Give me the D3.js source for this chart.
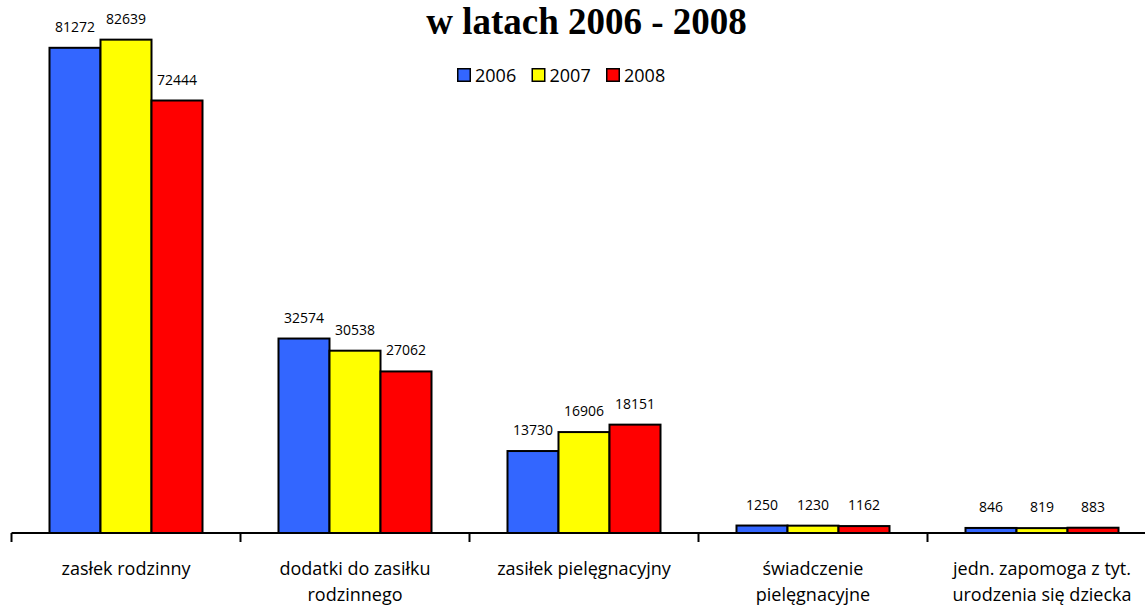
<!DOCTYPE html>
<html>
<head>
<meta charset="utf-8">
<script src="https://cdn.jsdelivr.net/npm/d3@7"></script>
<style>
	body { margin: 0; background: #fff; }
	svg { display: block; }
</style>
</head>
<body>
<div id="chart"></div>
<script>
// data
var categories = [
	["zasłek rodzinny"],
	["dodatki do zasiłku", "rodzinnego"],
	["zasiłek pielęgnacyjny"],
	["świadczenie", "pielęgnacyjne"],
	["jedn. zapomoga z tyt.", "urodzenia się dziecka"]
];
var years = ["2006", "2007", "2008"];
var values2006 = [81272, 32574, 13730, 1250, 846];
var values2007 = [82639, 30538, 16906, 1230, 819];
var values2008 = [72444, 27062, 18151, 1162, 883];
var colors = ["#3366FF", "#FFFF00", "#FF0000"];

var series = [values2006, values2007, values2008];

var width = 1145,
	height = 606;

var margin = {
	left: 11.5,
	bottom: 73
};
var baseline = height - margin.bottom;
var step = 229;

var svg = d3.select("#chart")
	.append("svg")
	.attr("width", width)
	.attr("height", height);

var x0 = d3.scaleBand()
	.domain(d3.range(categories.length))
	.range([margin.left, margin.left + step * categories.length])
	.paddingInner(0)
	.paddingOuter(0);

var x1 = d3.scaleBand()
	.domain(years)
	.range([0, x0.bandwidth()])
	.paddingInner(0)
	.paddingOuter(0.745);

var y = d3.scaleLinear()
	.domain([0, 90000])
	.range([baseline, baseline - 537.3]);

var color = d3.scaleOrdinal()
	.domain(years)
	.range(colors);

// title (upper line is cut off in the original)
svg.append("text")
	.attr("x", 586.5)
	.attr("y", 34)
	.attr("text-anchor", "middle")
	.style("font-family", "'Liberation Serif', 'Times New Roman', serif")
	.style("font-weight", "bold")
	.style("font-size", "37px")
	.text("w latach 2006 - 2008");

// legend
var legend = svg.append("g")
	.attr("transform", "translate(457,75)");

var legendItem = legend.selectAll(".legendItem")
	.data(years)
	.enter()
	.append("g")
	.attr("class", "legendItem")
	.attr("transform", (d, i) => `translate(${i * 74.5},0)`);

legendItem.append("rect")
	.attr("x", 0.75)
	.attr("y", -6.25)
	.attr("width", 12.5)
	.attr("height", 12.5)
	.attr("fill", d => color(d))
	.attr("stroke", "#000")
	.attr("stroke-width", 1.5);

legendItem.append("text")
	.attr("x", 18)
	.attr("y", 7)
	.style("font-family", "'Open Sans', sans-serif")
	.style("font-size", "18px")
	.text(d => d);

// bars
var group = svg.selectAll(".category")
	.data(categories)
	.enter()
	.append("g")
	.attr("class", "category")
	.attr("transform", (d, i) => `translate(${x0(i)},0)`);

var bars = group.selectAll(".bar")
	.data((d, i) => years.map((yr, k) => ({ year: yr, value: series[k][i] })))
	.enter();

bars.append("rect")
	.attr("class", "bar")
	.attr("x", d => x1(d.year))
	.attr("y", d => y(d.value))
	.attr("width", x1.bandwidth())
	.attr("height", d => baseline - y(d.value))
	.attr("fill", d => color(d.year))
	.attr("stroke", "#000")
	.attr("stroke-width", 2);

bars.append("text")
	.attr("x", d => x1(d.year) + x1.bandwidth() / 2)
	.attr("y", d => y(d.value) - 16)
	.attr("text-anchor", "middle")
	.style("font-family", "'Open Sans', sans-serif")
	.style("font-size", "14px")
	.text(d => d.value);

// x axis
var axis = svg.append("g")
	.attr("class", "xAxis");

axis.append("line")
	.attr("x1", margin.left)
	.attr("x2", width)
	.attr("y1", baseline)
	.attr("y2", baseline)
	.attr("stroke", "#000")
	.attr("stroke-width", 2);

axis.selectAll(".tick")
	.data(d3.range(categories.length))
	.enter()
	.append("line")
	.attr("class", "tick")
	.attr("x1", d => x0(d))
	.attr("x2", d => x0(d))
	.attr("y1", baseline)
	.attr("y2", baseline + 9)
	.attr("stroke", "#000")
	.attr("stroke-width", 2);

var label = axis.selectAll(".label")
	.data(categories)
	.enter()
	.append("text")
	.attr("class", "label")
	.attr("x", (d, i) => x0(i) + x0.bandwidth() / 2)
	.attr("y", baseline + 42)
	.attr("text-anchor", "middle")
	.style("font-family", "'Open Sans', sans-serif")
	.style("font-size", "18px");

label.selectAll("tspan")
	.data(d => d)
	.enter()
	.append("tspan")
	.attr("x", function() { return d3.select(this.parentNode).attr("x"); })
	.attr("dy", (d, i) => i === 0 ? 0 : 26)
	.text(d => d);
</script>
</body>
</html>
